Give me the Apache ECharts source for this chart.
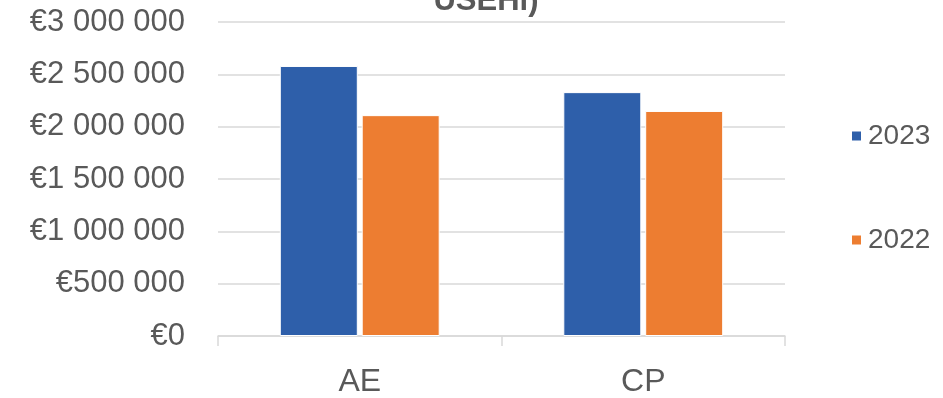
<!DOCTYPE html>
<html>
<head>
<meta charset="utf-8">
<script src="https://cdn.jsdelivr.net/npm/echarts@6/dist/echarts.min.js"></script>
<style>
  html, body { margin: 0; padding: 0; background: #fff; }
  #chart { width: 943px; height: 398px; }
</style>
</head>
<body>
<div id="chart"></div>
<script>
// Categories and yearly totals (EUR)
const categories = ['AE', 'CP'];
const seriesNames = ['2023', '2022'];
const values2023 = [2580000, 2330000];
const values2022 = [2110000, 2150000];
const titleText = 'USEHi)';

const textColor = '#595959';
const gridColor = '#D9D9D9';
const fontFamily = '"Liberation Sans", Arial, sans-serif';

function euro(v) {
  const s = String(Math.round(v)).replace(/\B(?=(\d{3})+(?!\d))/g, ' ');
  return '€' + s;
}

const chart = echarts.init(document.getElementById('chart'), null, { renderer: 'canvas' });

chart.setOption({
  animation: false,
  backgroundColor: '#ffffff',
  textStyle: { fontFamily: fontFamily },
  title: {
    text: titleText,
    left: 481,
    top: -19,
    textAlign: 'center',
    textStyle: { fontSize: 31, fontWeight: 'bold', color: textColor, fontFamily: fontFamily }
  },
  legend: {
    orient: 'vertical',
    left: 845,
    top: 117,
    itemWidth: 11,
    itemHeight: 11,
    itemGap: 76,
    icon: 'rect',
    data: seriesNames,
    textStyle: { fontSize: 28, color: textColor, fontFamily: fontFamily, padding: [0, 0, 0, 1] }
  },
  grid: {
    left: 218,
    right: 158,
    top: 22,
    bottom: 60,
    containLabel: false
  },
  xAxis: {
    type: 'category',
    data: categories,
    boundaryGap: true,
    axisLine: { lineStyle: { color: gridColor, width: 1.5 } },
    axisTick: { show: true, length: 10, lineStyle: { color: gridColor, width: 1.5 } },
    axisLabel: { fontSize: 32, color: textColor, margin: 30, fontFamily: fontFamily }
  },
  yAxis: {
    type: 'value',
    min: 0,
    max: 3000000,
    interval: 500000,
    axisLine: { show: false },
    axisTick: { show: false },
    splitLine: { lineStyle: { color: gridColor, width: 1.5 } },
    axisLabel: {
      fontSize: 31,
      color: textColor,
      margin: 33,
      fontFamily: fontFamily,
      formatter: euro
    }
  },
  series: [
    {
      name: seriesNames[0],
      type: 'bar',
      data: values2023,
      barWidth: 78,
      barGap: '5%',
      itemStyle: { color: '#2E5FAA', borderColor: '#ffffff', borderWidth: 1 }
    },
    {
      name: seriesNames[1],
      type: 'bar',
      data: values2022,
      barWidth: 78,
      barGap: '5%',
      itemStyle: { color: '#ED7D31', borderColor: '#ffffff', borderWidth: 1 }
    }
  ]
});
</script>
</body>
</html>
